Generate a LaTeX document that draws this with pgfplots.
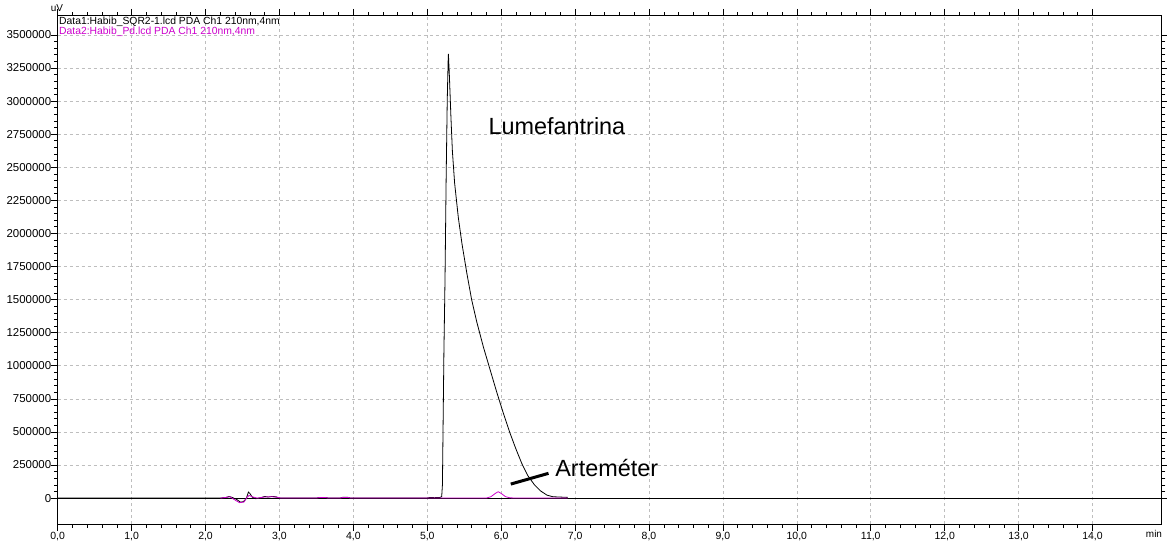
\documentclass[border=0pt]{standalone}
\usepackage{fontspec}
\setmainfont{Liberation Sans}
\usepackage{pgfplots}
\pgfplotsset{compat=1.18}
\definecolor{mag}{RGB}{204,0,204}
\definecolor{gridc}{RGB}{190,190,190}
\begin{document}
\begin{tikzpicture}
\path[use as bounding box] (-57.7bp,-20bp) rectangle (1109.3bp,524bp);
\begin{axis}[at={(0,0)}, anchor=south west, scale only axis,
 width=1104.3bp, height=508bp,
 xmin=0, xmax=14.94, ymin=-196000, ymax=3643000,
 xtick={0,1,...,14}, minor x tick num=4,
 ytick={0,250000,...,3500000}, minor y tick num=4,
 scaled y ticks=false, scaled x ticks=false,
 /pgf/number format/assume math mode=true,
 xticklabel style={font=\fontsize{10.5}{12}\selectfont, /pgf/number format/.cd, fixed, fixed zerofill, precision=1, use comma, assume math mode=true},
 yticklabel style={font=\fontsize{11.5}{13}\selectfont, /pgf/number format/.cd, 1000 sep={}, fixed, assume math mode=true},
 xticklabel shift={-2.5bp}, yticklabel shift={-4bp},
 tick align=outside, major tick length=7bp, minor tick length=3.5bp,
 tick style={black, line width=0.6bp},
 xmajorgrids, ymajorgrids,
 grid style={gridc, dash pattern=on 3bp off 3bp, line width=0.6bp},
 axis line style={line width=1bp},
 clip=true,
]
% zero line
\addplot[black, line width=1bp] coordinates {(0,0) (14.94,0)};
% Data1 (black)
\addplot[black, line width=0.8bp] coordinates {
(0,0) (2.20,0) (2.28,5000) (2.32,12000) (2.36,5000) (2.42,-10000) (2.47,-30000) (2.51,-28000)
(2.55,-5000) (2.58,45000) (2.60,35000) (2.63,8000) (2.68,-5000) (2.74,2000) (2.80,12000)
(2.85,8000) (2.90,12000) (2.95,10000) (3.00,0) (3.50,0) (3.55,5000) (3.62,5000) (3.66,0)
(3.82,0) (3.86,6000) (3.93,5000) (3.96,0) (5.00,0) (5.03,4000) (5.10,3000) (5.17,5000)
(5.195,10000) (5.205,100000) (5.215,600000) (5.225,1100000) (5.24,1650000) (5.255,2400000)
(5.27,3000000) (5.282,3300000) (5.286,3356000) (5.30,3180000) (5.32,2880000) (5.34,2620000)
(5.37,2380000) (5.42,2120000) (5.47,1920000) (5.535,1700000) (5.60,1500000) (5.67,1330000)
(5.76,1140000) (5.85,970000) (5.94,800000) (6.03,640000) (6.12,490000) (6.20,370000)
(6.28,260000) (6.36,170000) (6.45,100000) (6.53,55000) (6.62,22000) (6.70,10000) (6.90,5000)
};
% Data2 (magenta)
\addplot[mag, line width=0.8bp] coordinates {
(2.20,0) (2.28,5000) (2.33,10000) (2.40,-15000) (2.46,-35000) (2.52,-30000) (2.56,5000)
(2.59,20000) (2.63,10000) (2.70,0) (2.80,8000) (2.90,10000) (2.98,5000) (3.02,0)
(3.50,0) (3.55,5000) (3.62,5000) (3.66,0) (3.82,0) (3.86,5000) (3.93,5000) (3.96,0)
(5.20,0) (5.80,0) (5.86,10000) (5.92,35000) (5.96,48000) (6.00,35000) (6.06,10000)
(6.12,2000) (6.20,0) (6.90,0)
};
\node[anchor=base west, inner sep=0pt, font=\fontsize{23.5}{28}\selectfont] at (axis cs:5.827,2749000) {Lumefantrina};
\node[anchor=base west, inner sep=0pt, font=\fontsize{23.5}{28}\selectfont] at (axis cs:6.73,161000) {Arteméter};
\draw[black, line width=3bp] (axis cs:6.13,105800) -- (axis cs:6.64,186800);
\end{axis}
\node[anchor=base west, font=\fontsize{10.4}{12}\selectfont, inner sep=0pt] at (1.3bp,499bp) {Data1:Habib\_SQR2-1.lcd PDA Ch1 210nm,4nm};
\node[anchor=base west, font=\fontsize{10.4}{12}\selectfont, inner sep=0pt, text=mag] at (1.3bp,489bp) {Data2:Habib\_Pd.lcd PDA Ch1 210nm,4nm};
\node[anchor=base, font=\fontsize{10}{12}\selectfont, inner sep=0pt] at (-0.7bp,512bp) {uV};
\node[anchor=base, font=\fontsize{10}{12}\selectfont, inner sep=0pt] at (1096.3bp,-13bp) {min};
\end{tikzpicture}
\end{document}
